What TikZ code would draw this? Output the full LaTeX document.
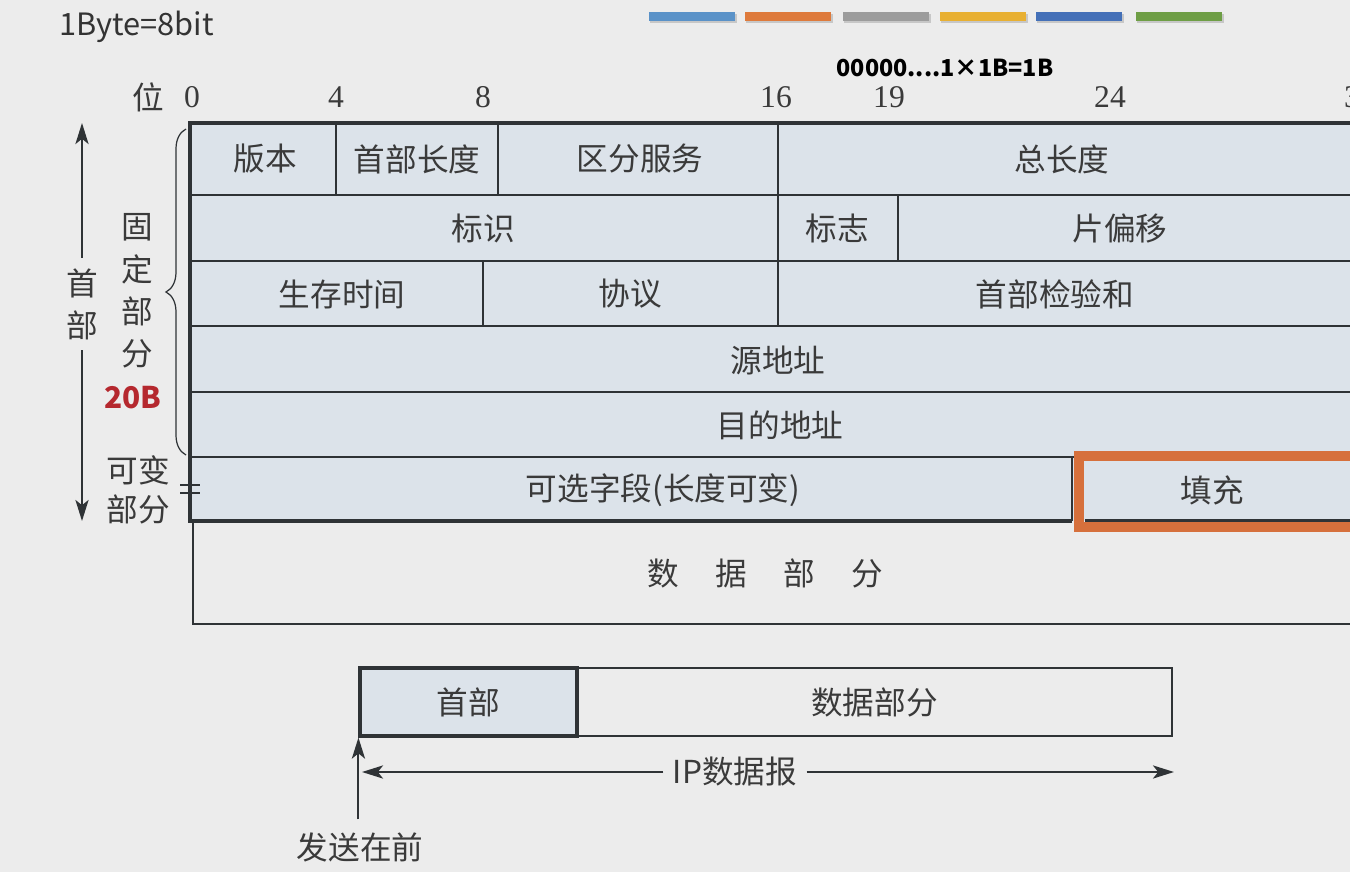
\documentclass[tikz,border=0pt]{standalone}
\usepackage{fontspec}
\setmainfont{Liberation Serif}
\newfontfamily\cjk{Noto Sans CJK SC}
\usetikzlibrary{arrows.meta,decorations.pathreplacing}
\definecolor{bgc}{HTML}{ECECEC}
\definecolor{cellc}{HTML}{DCE3EA}
\definecolor{linec}{HTML}{2F3336}
\definecolor{textc}{HTML}{3A3A3A}
\definecolor{padc}{HTML}{D6703C}
\definecolor{redc}{HTML}{B5282E}
\definecolor{barA}{HTML}{5A92C8}
\definecolor{barB}{HTML}{DE7A3C}
\definecolor{barC}{HTML}{9C9C9C}
\definecolor{barD}{HTML}{E8B032}
\definecolor{barE}{HTML}{4470B8}
\definecolor{barF}{HTML}{6E9E45}

\begin{document}
\begin{tikzpicture}[x=0.02cm,y=-0.02cm,line width=0.85pt,
  arr/.style={-{Stealth[length=12pt,width=7.5pt,inset=3pt]},line width=1.1pt,draw=linec},
  grid/.style={draw=linec,line width=0.85pt},
  thickgrid/.style={draw=linec,line width=1.8pt},
  lab/.style={font=\cjk\fontsize{18}{24}\selectfont,text=textc,inner sep=1pt,align=center},
  bitnum/.style={font=\fontsize{18}{20}\selectfont,text=textc,inner sep=1pt}]
\def\R{1400}
\fill[bgc] (0,0) rectangle (1350,872);
\useasboundingbox (0,0) rectangle (1350,872);
% colour bars
\foreach \c/\bx in {barA/649,barB/745,barC/843,barD/940,barE/1036,barF/1136}{
  \fill[black!22] (\bx+1,14) rectangle (\bx+88,23);
  \fill[\c] (\bx,12) rectangle (\bx+86,21);
}
\node[font=\cjk\fontsize{17.5}{20}\selectfont,text=black!80,anchor=west] (byte) at (53,27) {1Byte=8bit};
\node[font=\cjk\bfseries\fontsize{13.3}{16}\selectfont,text=black] (ones) at (945,68) {00000....1×1B=1B};
% bit positions
\node[lab] (wei) at (148,97) {位};
\foreach \b/\bx in {0/192,4/336,8/483,16/776,19/889,24/1110,32/1360}
  \node[bitnum] (b\b) at (\bx,97) {\b};
% header rows
\fill[cellc] (190,123) rectangle (\R,521);
\foreach \ry in {195,261,326,392,457}
  \draw[grid] (190,\ry) -- (\R,\ry);
\draw[grid] (336,123) -- (336,195) (498,123) -- (498,195) (778,123) -- (778,326)
  (898,195) -- (898,261) (483,261) -- (483,326) (1072,457) -- (1072,521);
\draw[thickgrid] (\R,123) -- (190,123) -- (190,521) -- (1072,521);
\draw[thickgrid] (1085,521) -- (\R,521);
\draw[padc,line width=5.7pt] (1079,456) rectangle (\R+40,527);
% data part
\draw[grid] (193,521) -- (193,624) -- (\R,624);
\node[lab] (ver) at (265,159) {版本};
\node[lab] (ihl) at (417,159) {首部长度};
\node[lab] (ds) at (640,159) {区分服务};
\node[lab] (tlen) at (1062,159) {总长度};
\node[lab] (ident) at (483,228) {标识};
\node[lab] (flag) at (837,228) {标志};
\node[lab] (foff) at (1120,228) {片偏移};
\node[lab] (ttl) at (342,294) {生存时间};
\node[lab] (proto) at (630,294) {协议};
\node[lab] (csum) at (1055,294) {首部检验和};
\node[lab] (src) at (778,360) {源地址};
\node[lab] (dst) at (780,425) {目的地址};
\node[lab] (opt) at (663,490) {可选字段(长度可变)};
\node[lab] (pad) at (1212,490) {填充};
\node[lab] (dpart) at (765,573) {数\hspace{1.15em}据\hspace{1.15em}部\hspace{1.15em}分};
% left labels
\draw[decorate,decoration={brace,amplitude=0.4cm},line width=0.7pt,draw=linec] (186,455) -- (186,129);
\node[lab] (fixed) at (137,291) {固\\定\\部\\分};
\node[font=\cjk\bfseries\fontsize{17}{20}\selectfont,text=redc] (twenty) at (133,398) {20B};
\node[lab,font=\cjk\fontsize{18}{22}\selectfont] (var) at (138,490) {可变\\部分};
\draw[line width=0.7pt,draw=linec] (180,485) -- (200,485) (180,493) -- (200,493);
\node[lab] (hdr) at (82,304) {首\\部};
\coordinate (htop) at (82,123);
\coordinate (hbot) at (82,521);
\draw[arr] (hdr.north) ++(0,-8) -- (htop);
\draw[arr] (hdr.south) ++(0,8) -- (hbot);
% IP datagram
\node[draw=linec,line width=0.85pt,minimum width=11.9cm,minimum height=1.36cm,lab] (body) at (874.5,702) {数据部分};
\node[draw=linec,line width=1.8pt,fill=cellc,minimum width=4.34cm,minimum height=1.36cm,lab] (head) at (468.5,702) {首部};
\node[lab,inner xsep=5pt] (ip) at (735,772) {IP数据报};
\coordinate (ipl) at (362,772);
\coordinate (ipr) at (1174,772);
\draw[arr] (ip) -- (ipl);
\draw[arr] (ip) -- (ipr);
\node[lab] (send) at (360,847) {发送在前};
\draw[arr,shorten <=6pt] (send.north -| head.south west) -- (head.south west);
\end{tikzpicture}
\end{document}
